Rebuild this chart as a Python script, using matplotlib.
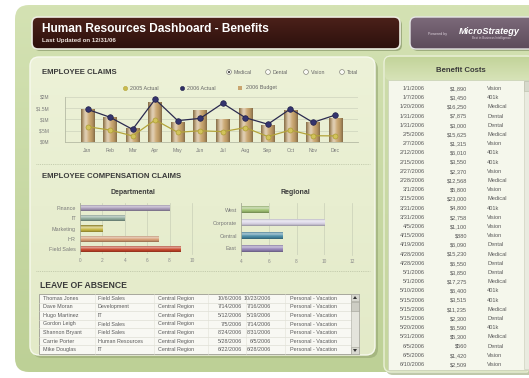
import numpy as np
import matplotlib
matplotlib.use('Agg')
import matplotlib.pyplot as plt
from matplotlib.patches import FancyBboxPatch, Rectangle, Circle, Polygon
from matplotlib.colors import to_rgb

plt.rcParams['font.family'] = ['Liberation Sans', 'DejaVu Sans']

# ---------------- data ----------------
months = ['Jan', 'Feb', 'Mar', 'Apr', 'May', 'Jun',
          'Jul', 'Aug', 'Sep', 'Oct', 'Nov', 'Dec']
budget_2006 = [1.45, 1.10, 0.61, 1.79, 0.90, 1.42, 1.02, 1.52, 0.77, 1.42, 0.87, 1.05]
actual_2006 = [1.45, 1.10, 0.56, 1.90, 0.95, 1.05, 1.72, 1.08, 0.79, 1.47, 0.87, 1.20]
actual_2005 = [0.68, 0.53, 0.27, 0.98, 0.43, 0.50, 0.46, 0.64, 0.24, 0.53, 0.28, 0.27]
claim_ticks = [0, 0.5, 1, 1.5, 2]
claim_tick_labels = ['$0M', '$.5M', '$1M', '$1.5M', '$2M']
claim_filters = ['Medical', 'Dental', 'Vision', 'Total']

departments = ['Finance', 'IT', 'Marketing', 'HR', 'Field Sales']
dept_claims = [8, 4, 2, 7, 9]
dept_ticks = [0, 2, 4, 6, 8, 10]

regions = ['West', 'Corporate', 'Central', 'East']
region_claims = [6, 10, 7, 7]
region_ticks = [4, 6, 8, 10, 12]

leave_names = ['Thomas Jones', 'Dave Moran', 'Hugo Martinez', 'Gordon Leigh',
               'Shannon Bryant', 'Carrie Porter', 'Mike Douglas']
leave_depts = ['Field Sales', 'Development', 'IT', 'Field Sales',
               'Field Sales', 'Human Resources', 'IT']
leave_regions = ['Central Region'] * 7
leave_starts = ['10/6/2006', '7/14/2006', '5/12/2006', '7/5/2006',
                '8/24/2006', '5/28/2006', '6/22/2006']
leave_ends = ['10/23/2006', '7/16/2006', '5/19/2006', '7/14/2006',
              '8/31/2006', '6/5/2006', '6/28/2006']
leave_types = ['Personal - Vacation'] * 7

benefit_dates = ['1/1/2006', '1/7/2006', '1/20/2006', '1/31/2006', '1/31/2006',
                 '2/5/2006', '2/7/2006', '2/12/2006', '2/15/2006', '2/27/2006',
                 '2/28/2006', '3/1/2006', '3/15/2006', '3/31/2006', '3/31/2006',
                 '4/5/2006', '4/15/2006', '4/19/2006', '4/28/2006', '4/28/2006',
                 '5/1/2006', '5/1/2006', '5/10/2006', '5/15/2006', '5/15/2006',
                 '5/15/2006', '5/20/2006', '5/31/2006', '6/5/2006', '6/5/2006',
                 '6/10/2006']
benefit_amounts = [1890, 3450, 16250, 7875, 3000, 15625, 1315, 6010, 3550, 2370,
                   12568, 5800, 23000, 4800, 2758, 1100, 880, 6090, 15230, 6550,
                   3850, 17275, 6400, 3515, 11235, 2300, 6590, 5300, 560, 1420,
                   2509]
benefit_types = ['Vision', '401k', 'Medical', 'Dental', 'Dental', 'Medical', 'Vision',
                 '401k', '401k', 'Vision', 'Medical', 'Vision', 'Medical', '401k',
                 'Vision', 'Vision', 'Vision', 'Dental', 'Medical', 'Dental',
                 'Dental', 'Medical', '401k', '401k', 'Medical', 'Dental', '401k',
                 'Medical', 'Dental', 'Vision', 'Vision']

# ---------------- canvas ----------------
W, H = 529, 378
fig = plt.figure(figsize=(W / 100, H / 100), dpi=100, facecolor='white')
bg = fig.add_axes([0, 0, 1, 1])
bg.set_axis_off()


def px_axes(x0, y0, x1, y1):
    ax = fig.add_axes([x0 / W, 1 - y1 / H, (x1 - x0) / W, (y1 - y0) / H])
    ax.set_facecolor('none')
    return ax


def shaded_box(x, y, w, h, top, bottom, r=6, ec='none', lw=0, z=1):
    p = FancyBboxPatch((x, y), w, h, boxstyle=f'round,pad=0,rounding_size={r}',
                       fc='none', ec=ec, lw=lw, zorder=z + 0.1)
    bg.add_patch(p)
    t = np.array(to_rgb(top))
    b = np.array(to_rgb(bottom))
    s = np.linspace(0, 1, 100)[:, None, None]
    img = t * (1 - s) + b * s
    im = bg.imshow(img, extent=(x, x + w, y + h, y), aspect='auto',
                   zorder=z, interpolation='bilinear')
    im.set_clip_path(p)
    return p


def shadow(x, y, w, h, r=6, color='#8fa070', alpha=0.55, z=0.9):
    bg.add_patch(FancyBboxPatch((x, y), w, h, boxstyle=f'round,pad=0,rounding_size={r}',
                                fc=color, ec='none', alpha=alpha, zorder=z))


def cylinder_ramp(color, n=64):
    """Colour ramp across a bar that gives it a rounded, lit look."""
    c = np.array(to_rgb(color))
    t = np.linspace(0, 1, n)
    hl = 0.5 * np.exp(-((t - 0.33) / 0.2) ** 2)
    dk = 1 - 0.35 * np.abs(2 * t - 1) ** 2.5
    ramp = (c[None, :] + (1 - c[None, :]) * hl[:, None]) * dk[:, None]
    return np.clip(ramp, 0, 1)


def shade_bars(ax, bars, colors, horizontal=False):
    """Overlay a lit gradient on each bar, kept inside the visible data range."""
    xmin, xmax = ax.get_xlim()
    for b, col in zip(bars, colors):
        ramp = cylinder_ramp(col)
        img = ramp[:, None, :] if horizontal else ramp[None, :, :]
        x0, y0 = b.get_x(), b.get_y()
        w, h = b.get_width(), b.get_height()
        left = max(x0, xmin)
        right = min(x0 + w, xmax)
        if right <= left:
            continue
        ext = (left, right, y0 + h, y0) if horizontal else (left, right, y0, y0 + h)
        im = ax.imshow(img, extent=ext, aspect='auto', zorder=b.get_zorder() + 0.05,
                       interpolation='bilinear')
        im.set_clip_path(b)


# outer green board
shaded_box(15, 5, 545, 367, '#d4e2b3', '#bdd096', r=14, z=0.5)

# title banner
shadow(34, 19, 368, 32, r=6, color='#7d8c60', alpha=0.6, z=1.5)
shaded_box(32, 17, 368, 32, '#4c211a', '#2c100c', r=6, ec='#ecece0', lw=1.2, z=2)
bg.text(42, 29.5, 'Human Resources Dashboard - Benefits', color='white',
        fontsize=8.6, fontweight='bold', va='center', ha='left', zorder=3)
bg.text(42, 40.5, 'Last Updated on 12/31/06', color='#f0e6e0',
        fontsize=4.4, fontweight='bold', va='center', ha='left', zorder=3)

# vendor badge
shadow(412, 19, 130, 32, r=6, color='#7d8c60', alpha=0.6, z=1.5)
shaded_box(410, 17, 130, 32, '#7c6a7a', '#5c4b5a', r=6, ec='#e6e6e6', lw=1.0, z=2)
bg.text(438, 33.5, 'Powered by', color='#ddd2dc', fontsize=2.6, va='center',
        ha='center', zorder=3)
bg.text(489, 31, 'MicroStrategy', color='white', fontsize=6.6, fontweight='bold',
        fontstyle='italic', va='center', ha='center', zorder=3)
bg.text(491, 38, 'Best in Business Intelligence', color='#d8ccd6', fontsize=2.2,
        va='center', ha='center', zorder=3)

# left content panel
shadow(33, 60, 345, 298, r=9, color='#95a672', alpha=0.6, z=1.5)
shaded_box(30, 57, 345, 298, '#edf2d8', '#e3eac8', r=9, ec='#f7f9ee', lw=1.0, z=2)

# right content panel
shadow(386, 59, 150, 316, r=7, color='#95a672', alpha=0.6, z=1.5)
shaded_box(384, 56, 150, 316, '#cddcab', '#c6d69f', r=7, ec='#eaf0d8', lw=1.0, z=2)
shaded_box(385, 57, 148, 23, '#c3d49a', '#d7e3b8', r=5, z=2.2)
bg.add_patch(Rectangle((388, 80), 141, 290, fc='#f5f7ec', ec='#cdd5bb', lw=0.6, zorder=2.5))
bg.text(461, 70, 'Benefit Costs', color='#3b3b3b', fontsize=5.6, fontweight='bold',
        ha='center', va='center', zorder=3)

# benefit cost rows
row_y0, row_dy = 88.5, 9.2
for i, (d, a, t) in enumerate(zip(benefit_dates, benefit_amounts, benefit_types)):
    yy = row_y0 + i * row_dy
    bg.text(425, yy, d, fontsize=4.1, color='#5a5a5a', ha='right', va='center', zorder=3)
    bg.text(467, yy, f'${a:,}', fontsize=4.1, color='#5a5a5a', ha='right', va='center', zorder=3)
    bg.text(487, yy, t, fontsize=4.1, color='#5a5a5a', ha='left', va='center', zorder=3)
# scrollbar
bg.add_patch(Rectangle((524, 81), 4.5, 288, fc='#e9ebe0', ec='#c7ccb8', lw=0.4, zorder=2.8))
bg.add_patch(Rectangle((524, 81), 4.5, 10, fc='#d6d9cc', ec='#b8bca8', lw=0.4, zorder=2.9))

# section separators
for ys in (164, 271):
    bg.plot([36, 370], [ys, ys], color='#b8c1a2', lw=0.6, ls=(0, (1, 1.2)), zorder=3)

# section titles
bg.text(42, 72, 'EMPLOYEE CLAIMS', fontsize=5.6, fontweight='bold', color='#3a3a3a',
        ha='left', va='center', zorder=3)
bg.text(42, 176, 'EMPLOYEE COMPENSATION CLAIMS', fontsize=5.6, fontweight='bold',
        color='#3a3a3a', ha='left', va='center', zorder=3)
bg.text(40, 286, 'LEAVE OF ABSENCE', fontsize=6.2, fontweight='bold', color='#3a3a3a',
        ha='left', va='center', zorder=3)

# filter radio buttons
radio_x = [229, 268, 306, 342]
for k, (rx, lab) in enumerate(zip(radio_x, claim_filters)):
    bg.add_patch(Circle((rx, 72), 2.4, fc='#fafaf5', ec='#8a8a80', lw=0.5, zorder=3))
    if k == 0:
        bg.add_patch(Circle((rx, 72), 1.1, fc='#444444', ec='none', zorder=3.1))
    bg.text(rx + 5, 72, lab, fontsize=3.8, color='#666666', ha='left', va='center', zorder=3)

# chart legend
bg.plot([125], [88], marker='o', ms=3, mfc='#c9bb4e', mec='#b3a43a', mew=0.4, zorder=3)
bg.text(130, 88, '2005 Actual', fontsize=3.9, color='#666666', va='center', zorder=3)
bg.plot([182], [88], marker='o', ms=3, mfc='#2f2f66', mec='#22224a', mew=0.4, zorder=3)
bg.text(187, 88, '2006 Actual', fontsize=3.9, color='#666666', va='center', zorder=3)
bg.add_patch(Rectangle((238, 86.3), 4, 3.4, fc='#c9a56f', ec='none', zorder=3))
bg.text(246, 88, '2006 Budget', fontsize=3.9, color='#666666', va='center', zorder=3)

# compensation sub-titles
bg.text(133, 192, 'Departmental', fontsize=5.0, fontweight='bold', color='#3d3d3d',
        ha='center', va='center', zorder=3)
bg.text(295, 193, 'Regional', fontsize=5.0, fontweight='bold', color='#3d3d3d',
        ha='center', va='center', zorder=3)

# leave of absence table
tx0, ty0, tw, th = 39, 294, 320, 60
bg.add_patch(Rectangle((tx0, ty0), tw, th, fc='#f8f8f3', ec='#9c9c92', lw=0.6, zorder=2.6))
n_rows = len(leave_names)
rh = th / n_rows
for i in range(1, n_rows):
    bg.plot([tx0, tx0 + tw - 8], [ty0 + i * rh] * 2, color='#d8d8ce', lw=0.4, zorder=2.7)
for cx in (95, 154, 208, 246, 285):
    bg.plot([cx, cx], [ty0, ty0 + th], color='#e2e2d8', lw=0.4, zorder=2.7)
for i in range(n_rows):
    yy = ty0 + (i + 0.5) * rh
    kw = dict(fontsize=3.9, color='#5a5a5a', va='center', zorder=3)
    bg.text(43, yy, leave_names[i], ha='left', **kw)
    bg.text(98, yy, leave_depts[i], ha='left', **kw)
    bg.text(158, yy, leave_regions[i], ha='left', **kw)
    bg.text(242, yy, leave_starts[i], ha='right', **kw)
    bg.text(271, yy, leave_ends[i], ha='right', **kw)
    bg.text(290, yy, leave_types[i], ha='left', **kw)
# table scrollbar
bg.add_patch(Rectangle((351, ty0), 8, th, fc='#e4e4dc', ec='#a8a89e', lw=0.4, zorder=2.8))
bg.add_patch(Rectangle((351, ty0), 8, 7, fc='#d8d8d0', ec='#a0a096', lw=0.4, zorder=2.9))
bg.add_patch(Rectangle((351, ty0 + 7.5), 8, 9, fc='#cdcdc4', ec='#a0a096', lw=0.4, zorder=2.9))
bg.add_patch(Rectangle((351, ty0 + th - 7), 8, 7, fc='#d8d8d0', ec='#a0a096', lw=0.4, zorder=2.9))
bg.add_patch(Polygon([[353, ty0 + 5], [357, ty0 + 5], [355, ty0 + 2]], fc='#333', zorder=3))
bg.add_patch(Polygon([[353, ty0 + th - 5], [357, ty0 + th - 5], [355, ty0 + th - 2]],
                     fc='#333', zorder=3))

bg.set_xlim(0, W)
bg.set_ylim(H, 0)

# ---------------- employee claims chart ----------------
ax1 = px_axes(65, 97, 358, 142)
x = np.arange(len(months))
ax1.set_xlim(-1.0, 12.0)
ax1.set_ylim(0, 2.0)
budget_bars = ax1.bar(x, budget_2006, width=0.6, color='#c8a46c', zorder=2)
shade_bars(ax1, budget_bars, ['#c8a46c'] * len(months))
ax1.plot(x, actual_2005, color='#b3a43a', lw=0.9, marker='o', ms=3.6,
         mfc='#d2c35a', mec='#ad9e35', mew=0.5, zorder=3, clip_on=False)
ax1.plot(x, actual_2006, color='#2b2a4f', lw=0.9, marker='o', ms=4.0,
         mfc='#34346e', mec='#20204a', mew=0.5, zorder=4, clip_on=False)
ax1.set_xlim(-1.0, 12.0)
ax1.set_ylim(0, 2.0)
ax1.set_yticks(claim_ticks)
ax1.set_yticklabels(claim_tick_labels)
ax1.set_xticks(x)
ax1.set_xticklabels(months)
ax1.yaxis.grid(True, color='#cdd3bd', lw=0.5, zorder=0)
ax1.set_axisbelow(True)
for s in ('top', 'right'):
    ax1.spines[s].set_visible(False)
for s in ('left', 'bottom'):
    ax1.spines[s].set_color('#b5baa4')
    ax1.spines[s].set_linewidth(0.6)
ax1.tick_params(axis='y', length=0, pad=11, labelsize=3.5, labelcolor='#7a7a7a')
ax1.tick_params(axis='x', length=0, pad=4, labelsize=3.7, labelcolor='#7a7a7a')

# ---------------- departmental claims ----------------
dept_colors = ['#a99cba', '#8fac9c', '#c8b742', '#d99f74', '#c9452a']
ax2 = px_axes(80, 203, 192, 254)
yd = np.arange(len(departments))
ax2.set_xlim(0, 10)
dept_bars = ax2.barh(yd, dept_claims, height=0.6, color=dept_colors, zorder=2)
shade_bars(ax2, dept_bars, dept_colors, horizontal=True)
ax2.set_ylim(len(departments) - 0.5, -0.5)
ax2.set_xlim(0, 10)
ax2.set_xticks(dept_ticks)
ax2.set_yticks(yd)
ax2.set_yticklabels(departments)
ax2.xaxis.grid(True, color='#c9cfb8', lw=0.5)
ax2.set_axisbelow(True)

# ---------------- regional claims ----------------
region_colors = ['#a2c474', '#dcd7e8', '#4a8ea8', '#9686b9']
ax3 = px_axes(241, 203, 352, 255)
yr = np.arange(len(regions))
ax3.set_xlim(4, 12)
region_bars = ax3.barh(yr, region_claims, height=0.55, color=region_colors, zorder=2)
shade_bars(ax3, region_bars, region_colors, horizontal=True)
ax3.set_ylim(len(regions) - 0.5, -0.5)
ax3.set_xlim(4, 12)
ax3.set_xticks(region_ticks)
ax3.set_yticks(yr)
ax3.set_yticklabels(regions)
ax3.xaxis.grid(True, color='#c9cfb8', lw=0.5)
ax3.set_axisbelow(True)

for ax in (ax2, ax3):
    for s in ('top', 'bottom'):
        ax.spines[s].set_visible(False)
    ax.spines['right'].set_color('#c9cfb8')
    ax.spines['right'].set_linewidth(0.5)
    ax.spines['left'].set_color('#a9ae98')
    ax.spines['left'].set_linewidth(0.6)
    ax.tick_params(axis='y', length=0, pad=3, labelsize=3.9, labelcolor='#7a7a7a')
    ax.tick_params(axis='x', length=0, pad=3, labelsize=3.4, labelcolor='#8a8a8a')

fig.savefig('out.png', dpi=100, facecolor='white')
